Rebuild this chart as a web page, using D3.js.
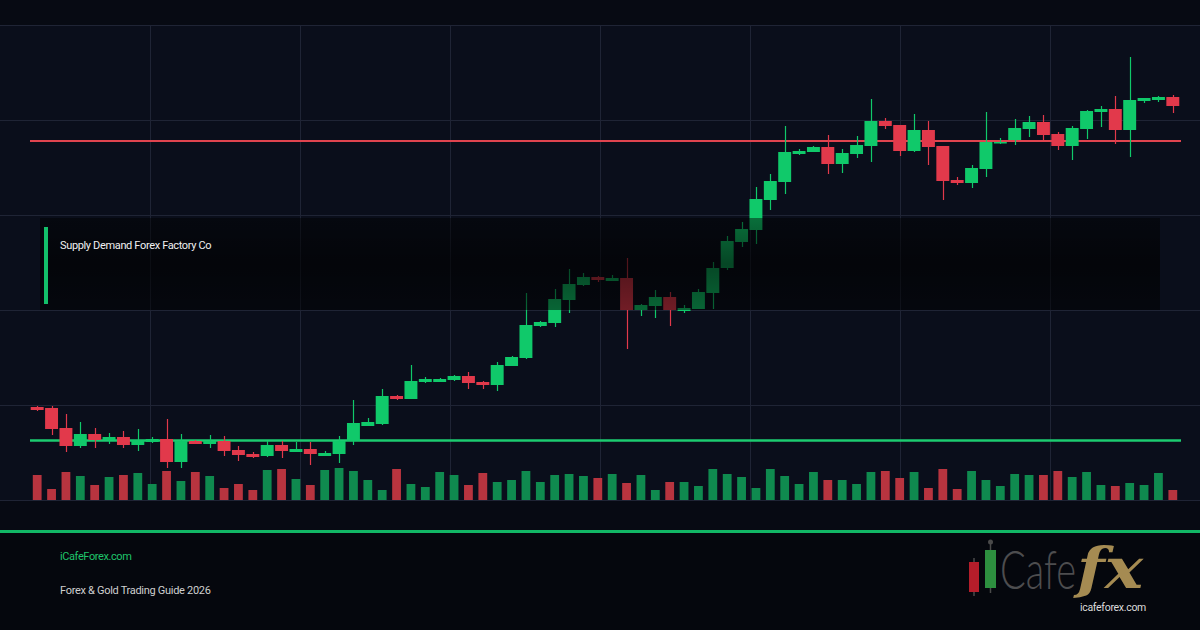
<!DOCTYPE html>
<html>
<head>
<meta charset="utf-8">
<script src="https://cdn.jsdelivr.net/npm/d3@7"></script>
<style>
  html, body { margin: 0; padding: 0; background: #070a13; }
  svg { display: block; }
</style>
</head>
<body>
<svg width="1200" height="630"></svg>
<script>
// OHLC (one entry per session)
const opens = [1.0893,1.0892,1.0872,1.0854,1.0866,1.0860,1.0863,1.0855,1.0858,1.0861,
  1.0838,1.0859,1.0856,1.0859,1.0850,1.0846,1.0844,1.0855,1.0848,1.0851,
  1.0844,1.0846,1.0859,1.0874,1.0876,1.0904,1.0901,1.0918,1.0918,1.0920,
  1.0924,1.0918,1.0915,1.0934,1.0942,1.0974,1.0977,1.1000,1.1015,1.1023,
  1.1019,1.1022,1.0990,1.0994,1.1003,1.0989,1.0991,1.1007,1.1032,1.1058,
  1.1070,1.1100,1.1118,1.1146,1.1148,1.1153,1.1136,1.1146,1.1154,1.1179,
  1.1175,1.1149,1.1170,1.1154,1.1120,1.1117,1.1131,1.1157,1.1160,1.1171,
  1.1178,1.1166,1.1154,1.1171,1.1188,1.1191,1.1170,1.1199,1.1200,1.1203];
const highs = [1.0894,1.0894,1.0886,1.0878,1.0872,1.0867,1.0869,1.0871,1.0863,1.0881,
  1.0866,1.0860,1.0865,1.0864,1.0854,1.0848,1.0859,1.0859,1.0858,1.0858,
  1.0849,1.0864,1.0900,1.0882,1.0911,1.0905,1.0935,1.0923,1.0922,1.0925,
  1.0928,1.0919,1.0938,1.0944,1.1007,1.0979,1.1011,1.1031,1.1027,1.1024,
  1.1025,1.1042,1.0996,1.1010,1.1008,1.0995,1.1011,1.1038,1.1064,1.1078,
  1.1113,1.1126,1.1174,1.1151,1.1154,1.1165,1.1151,1.1164,1.1201,1.1182,
  1.1175,1.1186,1.1179,1.1154,1.1123,1.1135,1.1188,1.1162,1.1181,1.1184,
  1.1185,1.1168,1.1174,1.1190,1.1194,1.1204,1.1243,1.1202,1.1204,1.1205];
const lows = [1.0889,1.0865,1.0848,1.0852,1.0852,1.0856,1.0852,1.0849,1.0857,1.0832,
  1.0832,1.0856,1.0852,1.0844,1.0839,1.0842,1.0843,1.0842,1.0848,1.0835,
  1.0844,1.0837,1.0855,1.0874,1.0875,1.0900,1.0901,1.0917,1.0918,1.0919,
  1.0911,1.0911,1.0909,1.0934,1.0941,1.0973,1.0973,1.0987,1.1014,1.1018,
  1.1019,1.0951,1.0984,1.0982,1.0974,1.0987,1.0991,1.0991,1.1030,1.1053,
  1.1056,1.1090,1.1106,1.1145,1.1148,1.1126,1.1127,1.1142,1.1138,1.1171,
  1.1144,1.1148,1.1135,1.1100,1.1115,1.1112,1.1123,1.1156,1.1155,1.1163,
  1.1160,1.1150,1.1140,1.1161,1.1173,1.1156,1.1143,1.1197,1.1198,1.1187];
const closes = [1.0890,1.0871,1.0854,1.0866,1.0860,1.0863,1.0855,1.0860,1.0861,1.0838,
  1.0859,1.0856,1.0859,1.0849,1.0845,1.0843,1.0855,1.0849,1.0851,1.0846,
  1.0847,1.0859,1.0877,1.0878,1.0904,1.0901,1.0919,1.0921,1.0921,1.0924,
  1.0917,1.0915,1.0935,1.0943,1.0975,1.0978,1.1001,1.1016,1.1023,1.1020,
  1.1022,1.0990,1.0995,1.1003,1.0990,1.0992,1.1008,1.1032,1.1059,1.1071,
  1.1101,1.1119,1.1148,1.1149,1.1153,1.1136,1.1147,1.1155,1.1179,1.1174,
  1.1149,1.1170,1.1153,1.1119,1.1117,1.1132,1.1158,1.1158,1.1172,1.1178,
  1.1165,1.1154,1.1172,1.1189,1.1191,1.1170,1.1200,1.1202,1.1203,1.1194];
const volumes = [2500,1100,2800,2400,1500,2300,2500,2700,1600,2900,
  1900,2800,2400,1200,1600,1000,3000,3100,2100,1500,
  3000,3200,2900,2000,1000,3100,1600,1300,2800,2500,
  1500,2700,1800,2000,2900,1800,2500,2600,2400,2200,
  2600,1700,2500,1000,1800,1800,1400,3100,2600,2300,
  1200,3100,2400,1600,2800,2000,2000,1600,2800,2900,
  2200,2800,1200,3100,1100,2900,2000,1400,2600,2500,
  2500,2900,2300,2800,1500,1400,1700,1500,2700,1000];

const gridPrices = [1.1275, 1.1180, 1.1085, 1.0990, 1.0895, 1.0800];
const gridCols = [150, 300, 450, 600, 750, 900, 1050];
const resistance = 1.1159;
const support = 1.0860;

const boxTitle = "Supply Demand Forex Factory Co";
const siteName = "iCafeForex.com";
const subtitle = "Forex & Gold Trading Guide 2026";

const svg = d3.select("svg"),
    width = +svg.attr("width"),
    height = +svg.attr("height");

const upColor = "#10c96a", downColor = "#e2394b";
const upVol = "#0f8a4f", downVol = "#b8343f";

const sessions = d3.range(opens.length);

const x = d3.scaleBand()
    .domain(sessions)
    .range([30, 1180])
    .paddingInner(0.1)
    .paddingOuter(0.05);

const y = d3.scaleLinear()
    .domain([1.0800, 1.1275])
    .range([500, 25]);

const yVol = d3.scaleLinear()
    .domain([0, 5000])
    .range([500, 450]);

// backgrounds
svg.append("rect").attr("width", width).attr("height", height).attr("fill", "#070a13");
svg.append("rect").attr("x", 0).attr("y", 25).attr("width", width).attr("height", 475).attr("fill", "#0a0e1b");
svg.append("rect").attr("x", 0).attr("y", 533).attr("width", width).attr("height", 97).attr("fill", "#05070d");

// grid
svg.append("g")
  .selectAll("line")
  .data(gridPrices)
  .join("line")
    .attr("x1", 0).attr("x2", width)
    .attr("y1", d => Math.round(y(d)) + 0.5)
    .attr("y2", d => Math.round(y(d)) + 0.5)
    .style("stroke", "#1f2435")
    .style("stroke-width", 1)

svg.append("g")
  .selectAll("line")
  .data(gridCols)
  .join("line")
    .attr("x1", d => d + 0.5).attr("x2", d => d + 0.5)
    .attr("y1", y(1.1275)).attr("y2", y(1.0800))
    .style("stroke", "#1f2435")
    .style("stroke-width", 1)

// volume bars
const vw = x.bandwidth() * 0.68;
svg.append("g")
  .selectAll("rect")
  .data(sessions)
  .join("rect")
    .attr("x", i => x(i) + (x.bandwidth() - vw) / 2)
    .attr("y", i => yVol(volumes[i]))
    .attr("width", vw)
    .attr("height", i => yVol(0) - yVol(volumes[i]))
    .attr("fill", i => closes[i] >= opens[i] ? upVol : downVol)

// support / resistance
svg.append("line")
  .attr("x1", 30).attr("x2", 1181)
  .attr("y1", y(resistance)).attr("y2", y(resistance))
  .style("stroke", "#e0444f").style("stroke-width", 2)

svg.append("line")
  .attr("x1", 30).attr("x2", 1181)
  .attr("y1", y(support) + 0.5).attr("y2", y(support) + 0.5)
  .style("stroke", "#1ccb70").style("stroke-width", 2.5)

// candles
const candles = svg.append("g")
  .selectAll("g")
  .data(sessions)
  .join("g")
    .attr("fill", i => closes[i] >= opens[i] ? upColor : downColor)
    .attr("stroke", i => closes[i] >= opens[i] ? upColor : downColor);

candles.append("line")
    .attr("x1", i => Math.round(x(i) + x.bandwidth() / 2) + 0.5)
    .attr("x2", i => Math.round(x(i) + x.bandwidth() / 2) + 0.5)
    .attr("y1", i => y(highs[i]))
    .attr("y2", i => y(lows[i]))
    .style("stroke-width", 1.2)

candles.append("rect")
    .attr("x", i => x(i))
    .attr("y", i => y(Math.max(opens[i], closes[i])))
    .attr("width", x.bandwidth())
    .attr("height", i => Math.max(1.5, Math.abs(y(opens[i]) - y(closes[i]))))
    .attr("stroke", "none")

// caption box over chart
const defs = svg.append("defs");
const grad = defs.append("linearGradient").attr("id", "boxGrad")
    .attr("x1", 0).attr("y1", 0).attr("x2", 0).attr("y2", 1);
grad.append("stop").attr("offset", "0%").attr("stop-color", "#000").attr("stop-opacity", 0.45);
grad.append("stop").attr("offset", "50%").attr("stop-color", "#000").attr("stop-opacity", 0.65);
grad.append("stop").attr("offset", "100%").attr("stop-color", "#000").attr("stop-opacity", 0.5);

svg.append("rect")
  .attr("x", 40).attr("y", 218).attr("width", 1120).attr("height", 92)
  .attr("fill", "url(#boxGrad)")

svg.append("rect")
  .attr("x", 44).attr("y", 227).attr("width", 4).attr("height", 77)
  .attr("fill", "#13c06a")

svg.append("text")
  .attr("x", 60).attr("y", 249)
  .attr("fill", "#f0f0f0")
  .style("font-family", "Roboto, 'Noto Sans', sans-serif")
  .style("font-size", "11px")
  .style("letter-spacing", "-0.35px")
  .text(boxTitle)

// footer
svg.append("rect")
  .attr("x", 0).attr("y", 530).attr("width", width).attr("height", 3)
  .attr("fill", "#12b765")

svg.append("text")
  .attr("x", 60).attr("y", 560)
  .attr("fill", "#1fc46b")
  .style("font-family", "Roboto, 'Noto Sans', sans-serif")
  .style("font-size", "11px")
  .style("letter-spacing", "-0.4px")
  .text(siteName)

svg.append("text")
  .attr("x", 60).attr("y", 594)
  .attr("fill", "#cfcfcf")
  .style("font-family", "Roboto, 'Noto Sans', sans-serif")
  .style("font-size", "11px")
  .style("letter-spacing", "-0.3px")
  .text(subtitle)

// logo
const logo = svg.append("g");
logo.append("line").attr("x1", 974).attr("x2", 974).attr("y1", 558).attr("y2", 596)
  .style("stroke", "#4a4a4a").style("stroke-width", 1.5);
logo.append("rect").attr("x", 969).attr("y", 562).attr("width", 10).attr("height", 30).attr("fill", "#b51d2a");
logo.append("line").attr("x1", 990.5).attr("x2", 990.5).attr("y1", 542).attr("y2", 593)
  .style("stroke", "#4a4a4a").style("stroke-width", 1.5);
logo.append("circle").attr("cx", 990.5).attr("cy", 542).attr("r", 2.5).attr("fill", "#4a4a4a");
logo.append("rect").attr("x", 985).attr("y", 550).attr("width", 11).attr("height", 38).attr("fill", "#2d8f3f");

logo.append("text")
  .attr("x", 1000).attr("y", 589)
  .attr("fill", "#4d4d4f")
  .attr("textLength", 76)
  .attr("lengthAdjust", "spacingAndGlyphs")
  .style("font-family", "Lato, 'Open Sans', sans-serif")
  .style("font-weight", 300)
  .style("font-size", "54px")
  .text("Cafe")

logo.append("text")
  .attr("x", 1077).attr("y", 588)
  .attr("fill", "#a58b52")
  .attr("textLength", 66)
  .attr("lengthAdjust", "spacingAndGlyphs")
  .style("font-family", "'DejaVu Serif', 'Liberation Serif', serif")
  .style("font-style", "italic")
  .style("font-weight", "bold")
  .style("font-size", "56px")
  .text("fx")

logo.append("text")
  .attr("x", 1080).attr("y", 611)
  .attr("fill", "#dcdcdc")
  .style("font-family", "Roboto, 'Noto Sans', sans-serif")
  .style("font-size", "10.5px")
  .style("letter-spacing", "-0.3px")
  .text("icafeforex.com")
</script>
</body>
</html>
